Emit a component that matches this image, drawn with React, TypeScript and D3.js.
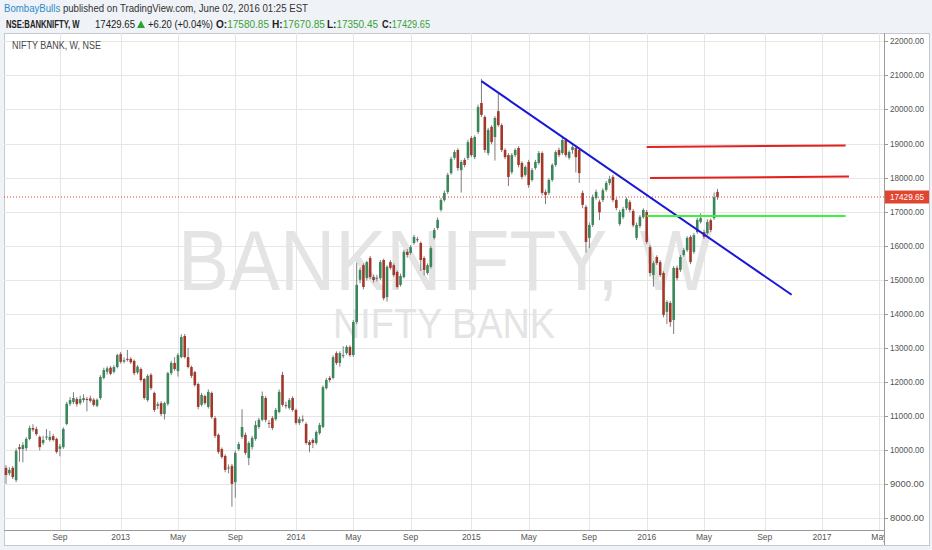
import * as d3 from "d3";

// weekly bars, first bar = week of 2012-05-14
const startWeek = "2012-05-14";

const opens = [
  9480, 9320, 9480, 9120, 10090, 10030, 10060, 10330, 10650, 10620, 10390, 10210, 10370, 10300, 10410, 10330, 10040, 10090, 10770, 11360,
  11410, 11500, 11380, 11470, 11500, 11520, 11480, 11300, 11530, 12120, 12300, 12420, 12300, 12440, 12820, 12600, 12680, 12680, 12620, 12280,
  12380, 12090, 11470, 12210, 11680, 11300, 11380, 11060, 11360, 12260, 12560, 12320, 12730, 13350, 12730, 12440, 12290, 11940, 11330, 11590,
  11270, 11680, 10940, 10450, 10030, 9830, 9460, 9540, 9060, 10030, 10390, 10450, 9770, 10090, 10330, 10680, 10890, 11530, 10800, 10940,
  10910, 11120, 12210, 11320, 11240, 11530, 11180, 10800, 10900, 10770, 10240, 10300, 10210, 10500, 10680, 11820, 12120, 12120, 12850, 12560,
  12760, 12850, 13030, 12790, 13760, 15000, 15430, 15050, 15640, 15080, 15030, 15050, 15580, 14490, 15520, 15430, 15230, 14850, 15080, 15820,
  15790, 16080, 16190, 16080, 15640, 15200, 15380, 16230, 16520, 17050, 17340, 17580, 18130, 18580, 18810, 18220, 18520, 18580, 19160, 18600,
  19340, 20190, 19780, 18720, 19490, 19190, 19950, 19540, 18810, 18660, 18160, 18660, 18870, 18430, 18080, 18460, 17930, 18280, 18430, 18720,
  17580, 17550, 17930, 18370, 18810, 18720, 19100, 18580, 18810, 18870, 18810, 17550, 17140, 16230, 16610, 17400, 17290, 17340, 17640, 17840,
  18020, 17340, 16640, 16840, 17100, 17280, 17020, 16230, 16580, 16840, 16990, 15960, 15140, 15670, 15520, 15200, 14060, 14320, 13820, 15350,
  15290, 15730, 15870, 16260, 15820, 16400, 16700, 16400, 16370, 16750, 16810, 17580.85,
];
const highs = [
  9560, 9500, 9540, 10050, 10180, 10230, 10380, 10720, 10760, 10690, 10430, 10420, 10620, 10560, 10470, 10370, 10180, 10670, 11420, 11560,
  11700, 11560, 11600, 11640, 11560, 11600, 11530, 11520, 12200, 12420, 12460, 12470, 12500, 12830, 12880, 12720, 12940, 12730, 12660, 12500,
  12430, 12120, 12230, 12260, 11720, 11420, 11440, 11420, 12300, 12620, 12730, 12850, 13400, 13410, 13000, 12480, 12330, 11980, 11680, 11630,
  11780, 11720, 11000, 10490, 10080, 9880, 9580, 9600, 9990, 10240, 11200, 10520, 10260, 10420, 10860, 10950, 11720, 11590, 10880, 11000,
  11240, 11780, 12300, 11420, 11530, 11580, 11220, 10980, 11020, 10820, 10300, 10350, 10580, 10800, 11900, 12120, 12180, 12780, 12900, 12900,
  13050, 13080, 13080, 13820, 15500, 15360, 15480, 15560, 15700, 15150, 15150, 15580, 15620, 15430, 15580, 15480, 15280, 15180, 15880, 15900,
  16020, 16320, 16260, 16130, 15690, 15480, 15990, 16520, 16830, 17400, 17620, 18140, 18610, 18810, 18860, 18520, 18580, 19110, 19220, 19240,
  20140, 20900, 19830, 19460, 19540, 19800, 20500, 19590, 18860, 18720, 18720, 18860, 18920, 18480, 18360, 18520, 18280, 18520, 18780, 18770,
  17650, 17980, 18420, 18800, 18880, 19180, 19150, 18800, 18950, 18920, 18860, 17620, 17200, 16680, 17500, 17650, 17350, 17690, 17900, 18050,
  18080, 17400, 17050, 17140, 17420, 17340, 17080, 16680, 16900, 17100, 17050, 16020, 15550, 15720, 15580, 15250, 14400, 14380, 15400, 15420,
  15730, 15930, 16280, 16310, 16370, 16820, 16950, 16470, 16780, 16800, 17560, 17670.85,
];
const lows = [
  9010, 9250, 9150, 9060, 9660, 9640, 9980, 10290, 10540, 10420, 9990, 10150, 10300, 10250, 10260, 9900, 9820, 10040, 10730, 11300,
  11350, 11280, 11330, 11400, 11140, 11400, 11280, 11260, 11480, 12080, 12220, 12200, 12250, 12400, 12540, 12550, 12600, 12530, 12200, 12230,
  12010, 11480, 11420, 11760, 11120, 11200, 11000, 10900, 11300, 12200, 12330, 12160, 12700, 12690, 12400, 12120, 11860, 11200, 11280, 11330,
  11220, 10920, 10360, 9890, 9750, 9350, 9320, 8340, 8600, 9980, 10330, 9860, 9560, 10020, 10280, 10630, 10850, 10820, 10650, 10590,
  10860, 11080, 11280, 11220, 11190, 11130, 10750, 10740, 10820, 10160, 9940, 10060, 10160, 10450, 10640, 11780, 11990, 12080, 12500, 12450,
  12700, 12800, 12740, 12740, 13700, 14900, 14720, 14980, 15020, 14920, 14950, 14990, 14400, 14360, 15300, 15090, 14740, 14800, 15040, 15650,
  15740, 16030, 16100, 15260, 15130, 15150, 15330, 16180, 16470, 17000, 17290, 17520, 18080, 18530, 18200, 17560, 18300, 18520, 18600, 18540,
  19280, 19780, 18730, 18650, 18980, 18500, 19490, 18750, 18540, 17750, 18100, 18600, 18300, 17950, 18030, 17700, 17880, 18230, 18380, 17480,
  17220, 17490, 17880, 18320, 18600, 18670, 18600, 18530, 18700, 18150, 17840, 17100, 15800, 15930, 16550, 17350, 16750, 17280, 17590, 17780,
  17280, 17040, 16580, 16780, 17040, 16980, 16540, 16170, 16520, 16790, 16050, 15100, 14800, 15430, 15080, 13900, 13700, 13620, 13410, 14980,
  15230, 15680, 15820, 15460, 15760, 16350, 16650, 16200, 16320, 16400, 16760, 17350.45,
];
const closes = [
  9270, 9420, 9210, 9980, 10030, 10150, 10330, 10650, 10600, 10470, 10090, 10300, 10400, 10390, 10300, 9950, 10110, 10620, 11360, 11470,
  11530, 11350, 11500, 11530, 11480, 11450, 11330, 11480, 12150, 12350, 12400, 12240, 12440, 12790, 12590, 12640, 12650, 12580, 12260, 12450,
  12060, 11530, 12180, 11820, 11180, 11350, 11060, 11380, 12260, 12560, 12380, 12790, 13320, 12730, 12440, 12180, 11910, 11270, 11620, 11380,
  11710, 10970, 10420, 9950, 9800, 9420, 9490, 9010, 9920, 10180, 10680, 9920, 10210, 10360, 10740, 10890, 11590, 10890, 10780, 10650,
  11180, 11710, 11330, 11300, 11470, 11180, 10800, 10910, 10880, 10210, 10150, 10210, 10530, 10740, 11850, 12060, 12060, 12730, 12560, 12850,
  12790, 13030, 12790, 13760, 14850, 15290, 14790, 15520, 15080, 14990, 15060, 15520, 14460, 15380, 15350, 15140, 14790, 15110, 15820, 15730,
  15960, 16260, 16170, 15580, 15290, 15430, 15930, 16460, 16760, 17340, 17550, 18080, 18550, 18750, 18280, 18460, 18370, 19040, 18660, 19190,
  20070, 19840, 18810, 19400, 19040, 19750, 19540, 18810, 18600, 18020, 18660, 18810, 18370, 18020, 18310, 17780, 18220, 18460, 18720, 17550,
  17490, 17930, 18370, 18750, 18660, 19100, 18660, 18750, 18900, 18600, 18130, 17200, 16110, 16610, 17430, 17580, 16980, 17630, 17840, 17960,
  17340, 17110, 16990, 17080, 17370, 17050, 16600, 16610, 16850, 17050, 16110, 15200, 15490, 15490, 15140, 13970, 14350, 13760, 15350, 15050,
  15670, 15870, 16230, 15520, 16310, 16760, 16810, 16260, 16700, 16460, 17423.45, 17429.65,
];

const priceTicks = [8000, 9000, 10000, 11000, 12000, 13000, 14000, 15000, 16000, 17000, 18000, 19000, 20000, 21000, 22000];
const timeTickDates = [
  "2012-09-03", "2013-01-07", "2013-05-06", "2013-09-02", "2014-01-06", "2014-05-05", "2014-09-01", "2015-01-05",
  "2015-05-04", "2015-09-07", "2016-01-04", "2016-05-02", "2016-09-05", "2017-01-02", "2017-05-01",
];
const timeTickLabels = ["Sep", "2013", "May", "Sep", "2014", "May", "Sep", "2015", "May", "Sep", "2016", "May", "Sep", "2017", "May"];

// drawings on the chart: [from, to] dates and prices at each end
const drawFrom = ["2015-01-26", "2016-01-04", "2016-01-11", "2016-01-04"];
const drawTo = ["2016-10-31", "2017-02-20", "2017-02-27", "2017-02-20"];
const drawP0 = [20830, 18900, 17985, 16870];
const drawP1 = [14560, 18945, 18030, 16870];

const lastPrice = 17429.65;
const quoteKeys = ["O:", "H:", "L:", "C:"];
const quoteValues = ["17580.85", "17670.85", "17350.45", "17429.65"];

const weekIndex = (d: string) => Math.round((Date.parse(d) - Date.parse(startWeek)) / (7 * 864e5));

const W = 932;
const H = 550;
const plotL = 4;
const plotR = 884;
const plotT = 33;
const plotB = 530;
const font = "'Liberation Sans', Arial, sans-serif";

export default function App() {
  const x = d3.scaleLinear().domain([0, 259]).range([6, 6 + 259 * 3.372]);
  const y = d3.scaleLinear().domain([8000, 22000]).range([518.3, 41.3]);
  const bodyW = 2.6;
  const lineColors = ["#1818d6", "#e3211f", "#e3211f", "#3df23d"];
  const quoteX = [216, 272, 327, 382];
  const quoteLen = [53, 53, 51, 48];

  return (
    <svg width={W} height={H} style={{ position: "fixed", left: 0, top: 0 }} fontFamily={font}>
      <defs>
        <clipPath id="plot">
          <rect x={plotL} y={plotT} width={plotR - plotL} height={plotB - plotT} />
        </clipPath>
        <clipPath id="timeclip">
          <rect x={plotL} y={plotB} width={plotR - plotL} height={15} />
        </clipPath>
      </defs>
      <rect width={W} height={H} fill="#eff2f6" />

      {/* header */}
      <text x={4} y={11.5} fontSize={10} fill="#333" textLength={304} lengthAdjust="spacingAndGlyphs">
        <tspan fill="#2e8ccb">BombayBulls</tspan> published on TradingView.com, June 02, 2016 01:25 EST
      </text>
      <text transform="translate(6,28) scale(0.77,1)" fontSize={10} fontWeight="bold" fill="#222">NSE:BANKNIFTY, W</text>
      <text x={95} y={28} fontSize={10} fill="#222" textLength={40} lengthAdjust="spacingAndGlyphs">17429.65</text>
      <path d="M137,28 L141,20.5 L145,28 Z" fill="#2fa12f" />
      <text x={148} y={28} fontSize={10} fill="#222" textLength={65} lengthAdjust="spacingAndGlyphs">+6.20 (+0.04%)</text>
      {quoteKeys.map((k, j) => (
        <text key={k} x={quoteX[j]} y={28} fontSize={10} fill="#222" textLength={quoteLen[j]} lengthAdjust="spacingAndGlyphs">
          <tspan fontWeight="bold">{k}</tspan>
          <tspan fill="#3aa13a">{quoteValues[j]}</tspan>
        </text>
      ))}

      {/* panel */}
      <rect x={plotL + 0.5} y={plotT + 0.5} width={929 - plotL} height={545 - plotT} fill="#fff" stroke="#c6c9ce" />

      {/* grid */}
      {priceTicks.map((p) => (
        <line key={p} x1={plotL} x2={plotR} y1={Math.round(y(p)) + 0.5} y2={Math.round(y(p)) + 0.5} stroke="#e6e6e6" />
      ))}
      {timeTickDates.map((d) => {
        const xx = Math.round(x(weekIndex(d))) + 0.5;
        return xx < plotR ? <line key={d} x1={xx} x2={xx} y1={plotT} y2={plotB} stroke="#e6e6e6" /> : null;
      })}

      {/* watermark */}
      <text x={445} y={290} fontSize={86} fill="#e4e4e4" textAnchor="middle" textLength={534} lengthAdjust="spacingAndGlyphs">BANKNIFTY, W</text>
      <text x={444} y={338} fontSize={42} fill="#e4e4e4" textAnchor="middle" textLength={222} lengthAdjust="spacingAndGlyphs">NIFTY BANK</text>

      <text x={12} y={49} fontSize={10} fill="#4a4a4a" textLength={89} lengthAdjust="spacingAndGlyphs">NIFTY BANK, W, NSE</text>

      {/* candles */}
      <g clipPath="url(#plot)">
        {closes.map((c, i) => {
          const o = opens[i];
          const up = c >= o;
          const cx = x(i);
          const top = y(Math.max(o, c));
          const bot = y(Math.min(o, c));
          return (
            <g key={i}>
              <line x1={cx} x2={cx} y1={y(highs[i])} y2={y(lows[i])} stroke="#7d7d80" strokeWidth={1} />
              <rect
                x={cx - bodyW / 2}
                y={top}
                width={bodyW}
                height={Math.max(1, bot - top)}
                fill={up ? "#3a875c" : "#a3372a"}
              />
            </g>
          );
        })}

        {/* last price line */}
        <line x1={plotL} x2={plotR} y1={y(lastPrice)} y2={y(lastPrice)} stroke="#d9402b" strokeDasharray="1,2" />

        {/* drawings */}
        {drawFrom.map((d, k) => (
          <line
            key={k}
            x1={x(weekIndex(d))}
            x2={x(weekIndex(drawTo[k]))}
            y1={y(drawP0[k])}
            y2={y(drawP1[k])}
            stroke={lineColors[k]}
            strokeWidth={2}
          />
        ))}
      </g>

      {/* price axis */}
      <line x1={plotR + 0.5} x2={plotR + 0.5} y1={plotT} y2={545} stroke="#9a9a9a" />
      {priceTicks.map((p) => (
        <g key={p}>
          <line x1={plotR} x2={plotR + 4} y1={Math.round(y(p)) + 0.5} y2={Math.round(y(p)) + 0.5} stroke="#9a9a9a" />
          <text x={890} y={y(p) + 3} fontSize={8.5} fill="#555" textLength={34} lengthAdjust="spacingAndGlyphs">
            {d3.format(".2f")(p)}
          </text>
        </g>
      ))}
      <rect x={plotR + 1} y={y(lastPrice) - 6.5} width={44} height={13} fill="#e0452f" />
      <text x={890} y={y(lastPrice) + 3} fontSize={8.5} fill="#fff" textLength={34} lengthAdjust="spacingAndGlyphs">
        {d3.format(".2f")(lastPrice)}
      </text>

      {/* time axis */}
      <line x1={plotL} x2={plotR} y1={plotB + 0.5} y2={plotB + 0.5} stroke="#9a9a9a" />
      <g clipPath="url(#timeclip)">
        {timeTickDates.map((d, k) => (
          <text key={d} x={x(weekIndex(d))} y={540} fontSize={8.5} fill="#555" textAnchor="middle">
            {timeTickLabels[k]}
          </text>
        ))}
      </g>
    </svg>
  );
}
